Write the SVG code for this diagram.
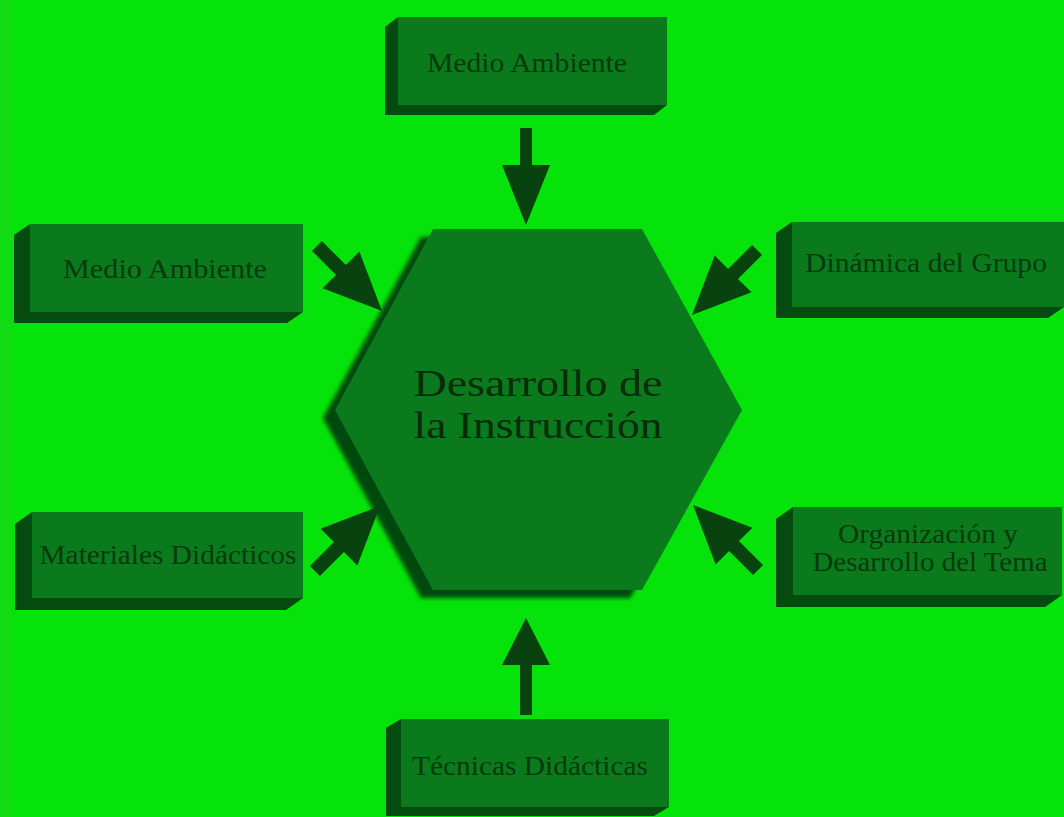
<svg xmlns="http://www.w3.org/2000/svg" width="1064" height="817" viewBox="0 0 1064 817">
<style>
.face{fill:#0b7a1d}
.ext{fill:#054a0f}
.lbl{font-family:"Liberation Serif","Times New Roman",serif;font-size:27px;fill:#083a0e;text-anchor:middle}
.big{font-family:"Liberation Serif","Times New Roman",serif;font-size:38px;fill:#062c0a;text-anchor:middle}
.arr{fill:#08420f}
</style>
<defs>
<filter id="soft" x="-10%" y="-10%" width="120%" height="120%"><feGaussianBlur stdDeviation="2"/></filter>
</defs>
<rect x="0" y="0" width="1064" height="817" fill="#06e30a"/>
<rect x="0" y="0" width="11" height="817" fill="#12dc14"/>

<g id="center">
<polygon points="421,237 630,237 730,418 630,598 421,598 323,418" fill="#054a0f" filter="url(#soft)"/>
<polygon points="433,229 642,229 742,410 642,590 433,590 335,410" class="face"/>
<text class="big" x="538" y="396" textLength="249" lengthAdjust="spacingAndGlyphs">Desarrollo de</text>
<text class="big" x="538" y="438" textLength="249" lengthAdjust="spacingAndGlyphs">la Instrucción</text>
</g>

<g id="n-top">
<polygon class="ext" points="398,17 385,27 385,115 654,115 667,105"/>
<rect class="face" x="398" y="17" width="269" height="88"/>
<text class="lbl" x="527" y="72" textLength="200" lengthAdjust="spacingAndGlyphs">Medio Ambiente</text>
</g>

<g id="n-left-top">
<polygon class="ext" points="30,224 14,235 14,323 287,323 303,312"/>
<rect class="face" x="30" y="224" width="273" height="88"/>
<text class="lbl" x="165" y="278" textLength="204" lengthAdjust="spacingAndGlyphs">Medio Ambiente</text>
</g>

<g id="n-right-top">
<polygon class="ext" points="792,222 776,233 776,318 1048,318 1064,307"/>
<rect class="face" x="792" y="222" width="272" height="85"/>
<text class="lbl" x="926" y="272" textLength="242" lengthAdjust="spacingAndGlyphs">Dinámica del Grupo</text>
</g>

<g id="n-left-bottom">
<polygon class="ext" points="32,512 15,524 15,610 286,610 303,598"/>
<rect class="face" x="32" y="512" width="271" height="86"/>
<text class="lbl" x="168" y="564" textLength="257" lengthAdjust="spacingAndGlyphs">Materiales Didácticos</text>
</g>

<g id="n-right-bottom">
<polygon class="ext" points="793,507 776,519 776,607 1045,607 1062,595"/>
<rect class="face" x="793" y="507" width="269" height="88"/>
<text class="lbl" x="928" y="543" textLength="180" lengthAdjust="spacingAndGlyphs">Organización y</text>
<text class="lbl" x="930" y="571" textLength="235" lengthAdjust="spacingAndGlyphs">Desarrollo del Tema</text>
</g>

<g id="n-bottom">
<polygon class="ext" points="401,719 386,728 386,816 654,816 669,807"/>
<rect class="face" x="401" y="719" width="268" height="88"/>
<text class="lbl" x="530" y="775" textLength="236" lengthAdjust="spacingAndGlyphs">Técnicas Didácticas</text>
</g>

<g id="connectors">
<polygon class="arr" points="520,128 532,128 532,165 550,165 526,225 502,165 520,165"/>
<polygon class="arr" points="520,715 532,715 532,665 550,665 526,618 502,665 520,665"/>
<polygon class="arr" transform="translate(382,311) rotate(-45)" points="0,0 -26,-58 -7,-58 -7,-92 7,-92 7,-58 26,-58"/>
<polygon class="arr" transform="translate(692,315) rotate(45)" points="0,0 -26,-58 -7,-58 -7,-92 7,-92 7,-58 26,-58"/>
<polygon class="arr" transform="translate(380,506) rotate(-135)" points="0,0 -26,-58 -7,-58 -7,-92 7,-92 7,-58 26,-58"/>
<polygon class="arr" transform="translate(693,505) rotate(135)" points="0,0 -26,-58 -7,-58 -7,-92 7,-92 7,-58 26,-58"/>
</g>
</svg>
